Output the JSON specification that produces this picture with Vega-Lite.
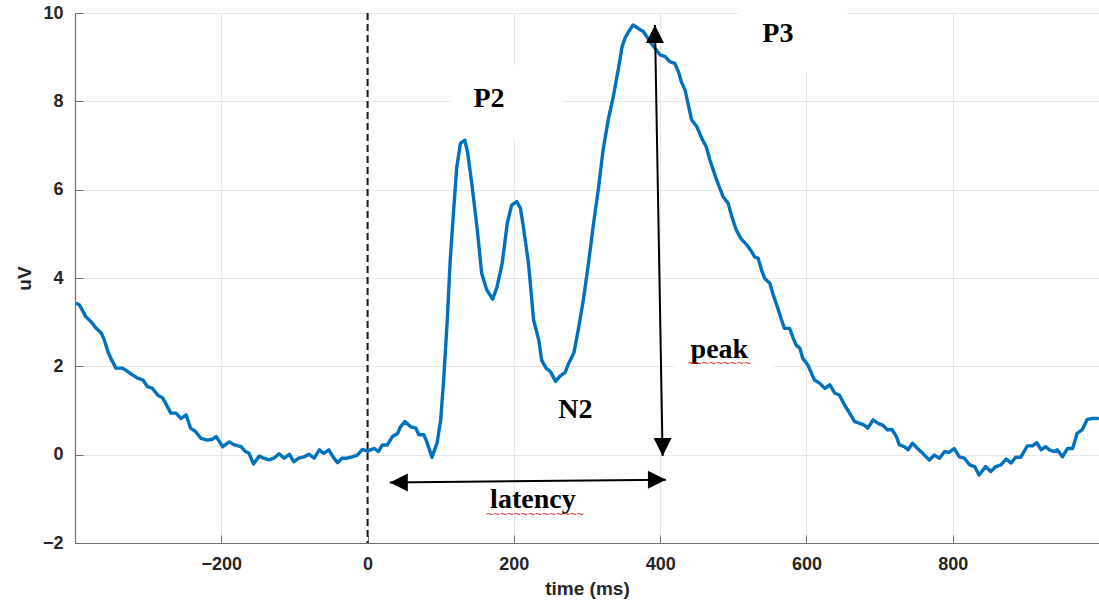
{
  "$schema": "https://vega.github.io/schema/vega-lite/v6.json",
  "width": 1024,
  "height": 530,
  "autosize": {"type": "none"},
  "padding": {"left": 75, "top": 13, "right": 0, "bottom": 63},
  "background": "white",
  "config": {
    "view": {"stroke": null},
    "axis": {
      "grid": true, "gridColor": "#e6e6e6", "gridWidth": 1,
      "domainColor": "#707070", "domainWidth": 1.2,
      "tickColor": "#707070", "tickSize": -8, "tickWidth": 1,
      "labelFont": "Liberation Sans", "labelFontWeight": "bold", "labelFontSize": 18, "labelColor": "#262626",
      "titleFont": "Liberation Sans", "titleFontWeight": "bold", "titleFontSize": 19, "titleColor": "#262626"
    },
    "axisX": {"labelPadding": 20, "titlePadding": 6},
    "axisY": {"labelPadding": 20, "titlePadding": 8}
  },
  "datasets": {
    "erp": [
      {"t": -397, "v": 3.42}, {"t": -394, "v": 3.39}, {"t": -385, "v": 3.12}, {"t": -378, "v": 3.01}, {"t": -371, "v": 2.86},
      {"t": -364, "v": 2.75}, {"t": -360, "v": 2.60}, {"t": -355, "v": 2.33}, {"t": -351, "v": 2.18}, {"t": -344, "v": 1.96},
      {"t": -335, "v": 1.96}, {"t": -328, "v": 1.88}, {"t": -321, "v": 1.80}, {"t": -314, "v": 1.73}, {"t": -307, "v": 1.69},
      {"t": -301, "v": 1.54}, {"t": -294, "v": 1.50}, {"t": -287, "v": 1.35}, {"t": -280, "v": 1.28}, {"t": -276, "v": 1.16},
      {"t": -269, "v": 0.94}, {"t": -262, "v": 0.94}, {"t": -255, "v": 0.82}, {"t": -248, "v": 0.90}, {"t": -242, "v": 0.60},
      {"t": -235, "v": 0.52}, {"t": -228, "v": 0.37}, {"t": -219, "v": 0.33}, {"t": -212, "v": 0.35}, {"t": -207, "v": 0.41},
      {"t": -198, "v": 0.18}, {"t": -189, "v": 0.29}, {"t": -182, "v": 0.22}, {"t": -173, "v": 0.18}, {"t": -167, "v": 0.07},
      {"t": -162, "v": 0.03}, {"t": -156, "v": -0.21}, {"t": -148, "v": -0.03}, {"t": -142, "v": -0.08}, {"t": -135, "v": -0.12},
      {"t": -128, "v": -0.08}, {"t": -121, "v": 0.02}, {"t": -114, "v": -0.08}, {"t": -107, "v": 0.01}, {"t": -101, "v": -0.16},
      {"t": -94, "v": -0.08}, {"t": -87, "v": -0.05}, {"t": -80, "v": 0.01}, {"t": -73, "v": -0.08}, {"t": -66, "v": 0.11},
      {"t": -60, "v": 0.03}, {"t": -53, "v": 0.11}, {"t": -46, "v": -0.08}, {"t": -41, "v": -0.18}, {"t": -35, "v": -0.08},
      {"t": -28, "v": -0.08}, {"t": -21, "v": -0.05}, {"t": -14, "v": -0.01}, {"t": -7, "v": 0.12}, {"t": 0, "v": 0.08},
      {"t": 4, "v": 0.11}, {"t": 9, "v": 0.14}, {"t": 15, "v": 0.07}, {"t": 20, "v": 0.22}, {"t": 27, "v": 0.22},
      {"t": 34, "v": 0.41}, {"t": 41, "v": 0.48}, {"t": 45, "v": 0.63}, {"t": 51, "v": 0.75}, {"t": 59, "v": 0.63},
      {"t": 66, "v": 0.60}, {"t": 70, "v": 0.45}, {"t": 77, "v": 0.45}, {"t": 81, "v": 0.29}, {"t": 88, "v": -0.06},
      {"t": 95, "v": 0.26}, {"t": 100, "v": 0.79}, {"t": 104, "v": 1.69}, {"t": 109, "v": 3.05}, {"t": 113, "v": 4.41},
      {"t": 118, "v": 5.61}, {"t": 122, "v": 6.52}, {"t": 127, "v": 7.05}, {"t": 133, "v": 7.12}, {"t": 137, "v": 6.82},
      {"t": 143, "v": 6.07}, {"t": 150, "v": 5.09}, {"t": 156, "v": 4.11}, {"t": 163, "v": 3.73}, {"t": 171, "v": 3.52},
      {"t": 177, "v": 3.80}, {"t": 184, "v": 4.33}, {"t": 191, "v": 5.24}, {"t": 197, "v": 5.65}, {"t": 204, "v": 5.73},
      {"t": 209, "v": 5.58}, {"t": 213, "v": 5.16}, {"t": 220, "v": 4.33}, {"t": 227, "v": 3.05}, {"t": 234, "v": 2.60},
      {"t": 238, "v": 2.14}, {"t": 244, "v": 1.96}, {"t": 250, "v": 1.88}, {"t": 257, "v": 1.66}, {"t": 263, "v": 1.78},
      {"t": 270, "v": 1.86}, {"t": 275, "v": 2.07}, {"t": 282, "v": 2.30}, {"t": 288, "v": 2.82}, {"t": 295, "v": 3.50},
      {"t": 302, "v": 4.33}, {"t": 309, "v": 5.24}, {"t": 316, "v": 6.07}, {"t": 322, "v": 6.90}, {"t": 329, "v": 7.58},
      {"t": 336, "v": 8.11}, {"t": 343, "v": 8.75}, {"t": 348, "v": 9.24}, {"t": 352, "v": 9.43}, {"t": 357, "v": 9.58},
      {"t": 363, "v": 9.73}, {"t": 370, "v": 9.65}, {"t": 377, "v": 9.58}, {"t": 382, "v": 9.46}, {"t": 386, "v": 9.35},
      {"t": 393, "v": 9.20}, {"t": 400, "v": 9.05}, {"t": 407, "v": 9.01}, {"t": 413, "v": 8.90}, {"t": 420, "v": 8.86},
      {"t": 425, "v": 8.67}, {"t": 429, "v": 8.44}, {"t": 434, "v": 8.26}, {"t": 438, "v": 7.96}, {"t": 443, "v": 7.58},
      {"t": 450, "v": 7.43}, {"t": 457, "v": 7.16}, {"t": 463, "v": 6.97}, {"t": 468, "v": 6.67}, {"t": 475, "v": 6.33},
      {"t": 479, "v": 6.14}, {"t": 486, "v": 5.84}, {"t": 493, "v": 5.69}, {"t": 498, "v": 5.39}, {"t": 504, "v": 5.09},
      {"t": 511, "v": 4.88}, {"t": 518, "v": 4.76}, {"t": 525, "v": 4.60}, {"t": 529, "v": 4.48}, {"t": 534, "v": 4.45},
      {"t": 539, "v": 4.16}, {"t": 543, "v": 3.99}, {"t": 550, "v": 3.88}, {"t": 554, "v": 3.65}, {"t": 561, "v": 3.31},
      {"t": 566, "v": 3.05}, {"t": 570, "v": 2.86}, {"t": 577, "v": 2.86}, {"t": 582, "v": 2.64}, {"t": 586, "v": 2.48},
      {"t": 591, "v": 2.41}, {"t": 595, "v": 2.18}, {"t": 602, "v": 2.03}, {"t": 607, "v": 1.84}, {"t": 611, "v": 1.69},
      {"t": 618, "v": 1.62}, {"t": 625, "v": 1.50}, {"t": 632, "v": 1.58}, {"t": 639, "v": 1.39}, {"t": 645, "v": 1.35},
      {"t": 652, "v": 1.13}, {"t": 659, "v": 0.94}, {"t": 666, "v": 0.75}, {"t": 673, "v": 0.71}, {"t": 679, "v": 0.67},
      {"t": 684, "v": 0.60}, {"t": 691, "v": 0.79}, {"t": 698, "v": 0.71}, {"t": 704, "v": 0.67}, {"t": 711, "v": 0.56},
      {"t": 717, "v": 0.57}, {"t": 723, "v": 0.41}, {"t": 727, "v": 0.22}, {"t": 734, "v": 0.18}, {"t": 739, "v": 0.11},
      {"t": 745, "v": 0.26}, {"t": 752, "v": 0.14}, {"t": 759, "v": 0.03}, {"t": 768, "v": -0.12}, {"t": 775, "v": -0.01},
      {"t": 782, "v": -0.08}, {"t": 789, "v": 0.07}, {"t": 795, "v": 0.05}, {"t": 802, "v": 0.14}, {"t": 809, "v": -0.05},
      {"t": 816, "v": -0.08}, {"t": 823, "v": -0.23}, {"t": 830, "v": -0.27}, {"t": 836, "v": -0.46}, {"t": 845, "v": -0.27},
      {"t": 852, "v": -0.38}, {"t": 859, "v": -0.27}, {"t": 866, "v": -0.23}, {"t": 873, "v": -0.10}, {"t": 880, "v": -0.19},
      {"t": 886, "v": -0.06}, {"t": 893, "v": -0.06}, {"t": 902, "v": 0.20}, {"t": 909, "v": 0.20}, {"t": 915, "v": 0.27},
      {"t": 921, "v": 0.11}, {"t": 927, "v": 0.18}, {"t": 932, "v": 0.11}, {"t": 939, "v": 0.07}, {"t": 943, "v": 0.11},
      {"t": 950, "v": -0.05}, {"t": 957, "v": 0.14}, {"t": 964, "v": 0.14}, {"t": 970, "v": 0.48}, {"t": 977, "v": 0.56},
      {"t": 984, "v": 0.80}, {"t": 991, "v": 0.82}, {"t": 998, "v": 0.82}
    ],
    "boxes": [
      {"x1": 113, "x2": 266, "y1": 7.17, "y2": 8.82},
      {"x1": 506, "x2": 655, "y1": 8.66, "y2": 10.1},
      {"x1": 420, "x2": 555, "y1": 1.6, "y2": 3.0}
    ],
    "arrows": [
      {"x1": 392.9, "y1": 9.73, "x2": 403.4, "y2": -0.03},
      {"x1": 30.4, "y1": -0.63, "x2": 407.9, "y2": -0.57}
    ],
    "heads": [
      {"x": 392.9, "y": 9.73, "angle": 0},
      {"x": 403.4, "y": -0.03, "angle": 180},
      {"x": 30.4, "y": -0.63, "angle": 270},
      {"x": 407.9, "y": -0.57, "angle": 90}
    ],
    "labels": [
      {"label": "P2", "t": 166, "v": 7.87},
      {"label": "P3", "t": 561, "v": 9.35},
      {"label": "N2", "t": 284, "v": 0.82},
      {"label": "peak", "t": 481, "v": 2.19},
      {"label": "latency", "t": 226, "v": -1.21}
    ],
    "squiggles": [
      {"s": "~~~~~~~~~", "t": 481, "v": 2.08},
      {"s": "~~~~~~~~~~~~~~", "t": 229, "v": -1.34}
    ],
    "onset": [{"t": 0}]
  },
  "layer": [
    {
      "data": {"name": "boxes"},
      "mark": {"type": "rect", "color": "white"},
      "encoding": {
        "x": {"field": "x1", "type": "quantitative", "title": "time (ms)", "scale": {"domain": [-400, 1000], "nice": false, "zero": false},
              "axis": {"values": [-400, -200, 0, 200, 400, 600, 800, 1000], "labelExpr": "datum.value == -400 || datum.value == 1000 ? '' : datum.label"}},
        "x2": {"field": "x2"},
        "y": {"field": "y1", "type": "quantitative", "title": "uV", "scale": {"domain": [-2, 10], "nice": false, "zero": false},
              "axis": {"values": [-2, 0, 2, 4, 6, 8, 10]}},
        "y2": {"field": "y2"}
      }
    },
    {
      "data": {"name": "onset"},
      "mark": {"type": "rule", "color": "#1a1a1a", "strokeWidth": 2, "strokeDash": [7, 4]},
      "encoding": {"x": {"field": "t", "type": "quantitative", "title": "time (ms)"}}
    },
    {
      "data": {"name": "erp"},
      "mark": {"type": "line", "color": "#0072BD", "strokeWidth": 3.4, "strokeJoin": "round", "strokeCap": "round"},
      "encoding": {
        "x": {"field": "t", "type": "quantitative", "title": "time (ms)"},
        "y": {"field": "v", "type": "quantitative", "title": "uV"}
      }
    },
    {
      "data": {"name": "arrows"},
      "mark": {"type": "rule", "color": "black", "strokeWidth": 2},
      "encoding": {
        "x": {"field": "x1", "type": "quantitative", "title": "time (ms)"},
        "x2": {"field": "x2"},
        "y": {"field": "y1", "type": "quantitative", "title": "uV"},
        "y2": {"field": "y2"}
      }
    },
    {
      "data": {"name": "heads"},
      "mark": {"type": "point", "shape": "M0,0L1,2L-1,2Z", "filled": true, "color": "black", "opacity": 1, "size": 324},
      "encoding": {
        "x": {"field": "x", "type": "quantitative", "title": "time (ms)"},
        "y": {"field": "y", "type": "quantitative", "title": "uV"},
        "angle": {"field": "angle", "type": "quantitative", "scale": null}
      }
    },
    {
      "data": {"name": "labels"},
      "mark": {"type": "text", "font": "Liberation Serif", "fontWeight": "bold", "fontSize": 28, "color": "black", "align": "center", "baseline": "alphabetic"},
      "encoding": {
        "x": {"field": "t", "type": "quantitative", "title": "time (ms)"},
        "y": {"field": "v", "type": "quantitative", "title": "uV"},
        "text": {"field": "label"}
      }
    },
    {
      "data": {"name": "squiggles"},
      "mark": {"type": "text", "font": "Liberation Sans", "fontSize": 12, "color": "#e03030", "align": "center", "baseline": "middle"},
      "encoding": {
        "x": {"field": "t", "type": "quantitative", "title": "time (ms)"},
        "y": {"field": "v", "type": "quantitative", "title": "uV"},
        "text": {"field": "s"}
      }
    }
  ]
}
